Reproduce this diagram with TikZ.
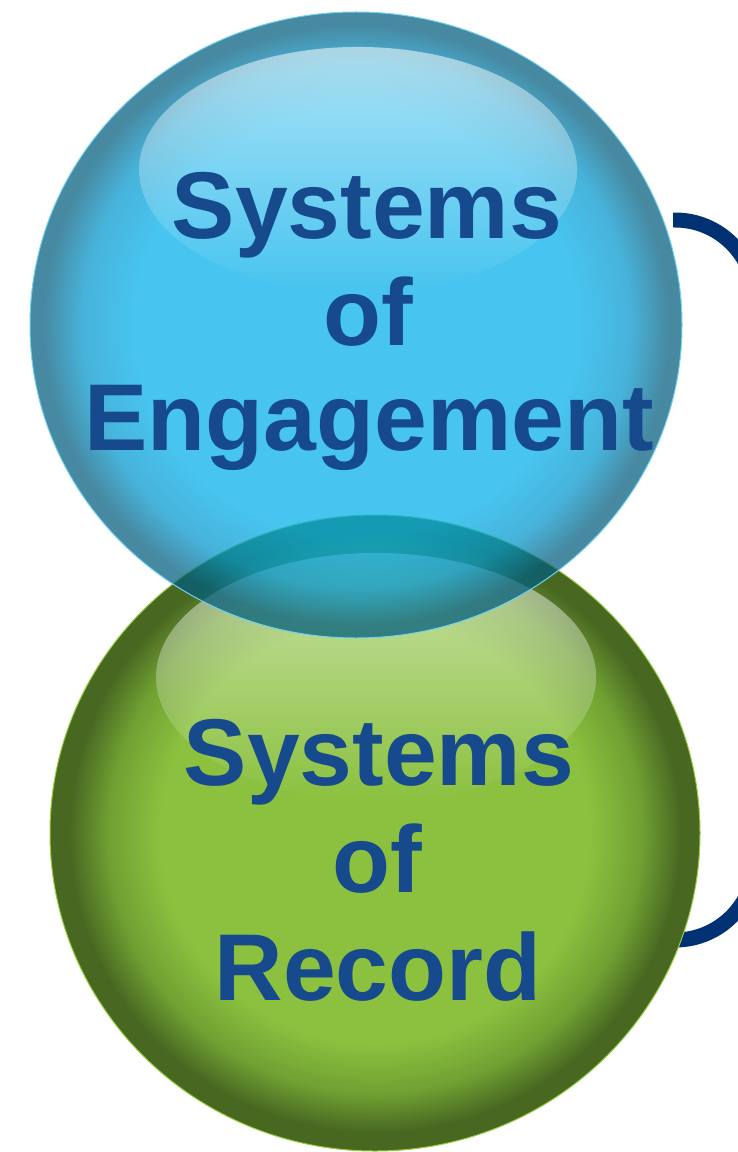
\documentclass[tikz,border=0pt]{standalone}
\usepackage{fontspec}
\setmainfont{Liberation Sans}
\usetikzlibrary{fadings}
\definecolor{bluein}{RGB}{0,174,234}
\definecolor{bluemid}{RGB}{0,150,205}
\definecolor{blueout}{RGB}{0,92,125}
\definecolor{bluerim}{RGB}{110,210,240}
\definecolor{greenin}{RGB}{139,193,63}
\definecolor{greenmid}{RGB}{112,160,50}
\definecolor{greenout}{RGB}{72,104,34}
\definecolor{greenrim}{RGB}{150,205,60}
\definecolor{txtblue}{RGB}{22,74,140}
\definecolor{navy}{RGB}{0,50,115}
\pgfdeclareradialshading{bluesph}{\pgfpoint{0bp}{0bp}}{color(0bp)=(bluein); color(17bp)=(bluein); color(21bp)=(bluemid); color(24bp)=(blueout); color(50bp)=(blueout)}
\pgfdeclareradialshading{greensph}{\pgfpoint{0bp}{0bp}}{color(0bp)=(greenin); color(16.5bp)=(greenin); color(20.5bp)=(greenmid); color(23.5bp)=(greenout); color(50bp)=(greenout)}
\tikzfading[name=gloss, top color=transparent!45, middle color=transparent!68, bottom color=transparent!100]
\tikzset{
  lbl/.style={text=txtblue, font=\fontsize{54}{60}\selectfont\bfseries, anchor=base, inner sep=0pt},
  gloss/.style={fill=white, path fading=gloss},
  bracket/.style={draw=navy, line width=0.3cm, rounded corners=1.6cm}
}
\begin{document}
\begin{tikzpicture}[x=0.02cm,y=-0.02cm]
\useasboundingbox (0,0) rectangle (737,1152);
\fill[white] (0,0) rectangle (737,1152);
% bracket
\coordinate (bt) at (673,220);
\coordinate (bc1) at (755,220);
\coordinate (bc2) at (755,940);
\coordinate (bb) at (660,940);
\draw[bracket] (bt) -- (bc1) -- (bc2) -- (bb);
% green sphere
\coordinate (gc) at (375,833);
\path[shading=greensph, draw=greenrim, line width=0.02cm] (gc) ellipse [x radius=325, y radius=318];
\path[gloss] (376,677) ellipse [x radius=220, y radius=124];
% blue sphere
\coordinate (bcn) at (356,325);
\begin{scope}[opacity=0.72]
\path[shading=bluesph] (bcn) ellipse [x radius=326, y radius=313];
\end{scope}
\draw[bluerim, line width=0.02cm] (bcn) ellipse [x radius=326, y radius=313];
\path[gloss] (358,170) ellipse [x radius=219, y radius=123];
% texts
\node[lbl] (e1) at (367,238) {Systems};
\node[lbl] (e2) at (368,345) {of};
\node[lbl] (e3) at (369,450) {Engagement};
\node[lbl] (r1) at (379,785) {Systems};
\node[lbl] (r2) at (377,892) {of};
\node[lbl] (r3) at (378,1000) {Record};
\end{tikzpicture}
\end{document}
